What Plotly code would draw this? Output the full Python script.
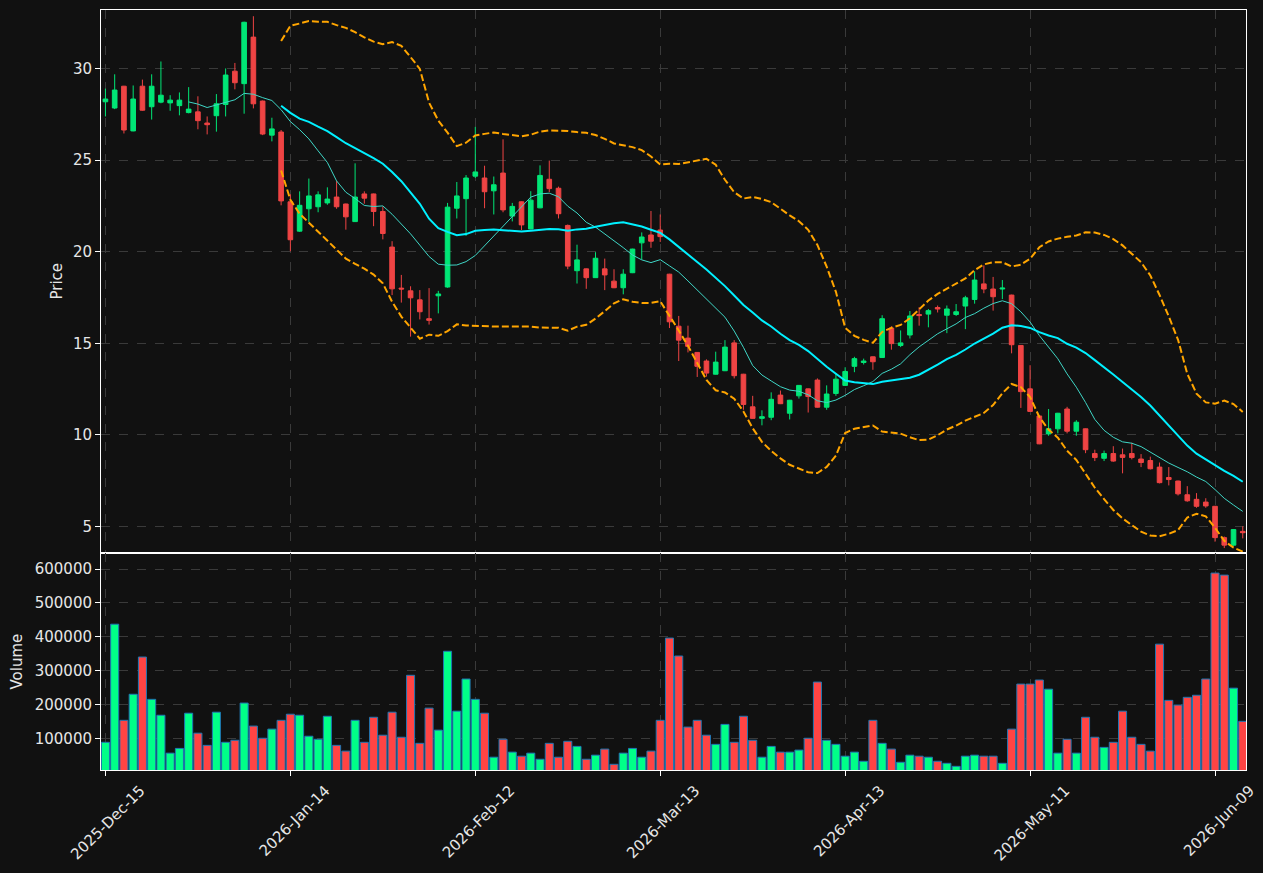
import plotly.graph_objects as go
from plotly.subplots import make_subplots
import pandas as pd

tick_index = [0, 20, 40, 60, 80, 100, 120]
tick_labels = ["2025-Dec-15", "2026-Jan-14", "2026-Feb-12", "2026-Mar-13",
               "2026-Apr-13", "2026-May-11", "2026-Jun-09"]

open_ = [28.18, 27.84, 29.03, 26.59, 29.03, 27.91, 28.16, 28.12, 27.97, 27.59,
         27.63, 27.02, 27.42, 28.03, 29.85, 29.17, 31.71, 28.22, 26.36, 26.53,
         22.72, 21.12, 22.34, 22.45, 22.66, 22.98, 22.60, 21.64, 23.15, 23.15,
         22.19, 20.25, 18.01, 17.86, 17.37, 16.34, 17.59, 18.07, 22.37, 22.89,
         24.12, 24.02, 23.32, 24.29, 21.94, 22.72, 21.24, 22.39, 23.95, 23.46,
         21.43, 18.96, 19.06, 18.58, 19.06, 18.39, 18.03, 18.85, 20.48, 20.91,
         21.18, 18.77, 15.93, 15.28, 14.50, 14.03, 13.31, 13.50, 15.02, 13.31,
         11.53, 10.90, 10.96, 12.17, 11.18, 12.13, 12.51, 12.99, 11.51, 12.26,
         12.70, 13.74, 13.95, 14.26, 14.22, 15.83, 14.88, 15.45, 16.57, 16.59,
         16.95, 16.53, 16.57, 17.03, 17.39, 18.24, 17.96, 17.96, 17.63, 14.88,
         12.51, 11.03, 10.05, 10.33, 11.41, 10.20, 10.33, 8.98, 8.72, 8.98,
         8.91, 8.98, 8.68, 8.60, 8.24, 7.67, 7.48, 6.73, 6.48, 6.33,
         6.10, 4.39, 3.98, 4.73]

close = [28.33, 28.82, 26.64, 28.33, 27.72, 29.03, 28.54, 28.27, 28.27, 27.78,
         27.15, 26.93, 28.07, 29.64, 29.22, 32.52, 28.07, 26.42, 26.70, 22.77,
         20.65, 22.53, 23.04, 23.10, 22.87, 22.45, 21.90, 22.98, 22.92, 22.19,
         20.99, 17.97, 17.96, 17.48, 16.72, 16.25, 17.69, 22.43, 23.04, 24.02,
         24.35, 23.27, 23.65, 22.28, 22.47, 21.46, 22.81, 24.16, 23.44, 22.07,
         19.21, 19.55, 18.58, 19.64, 18.73, 18.03, 18.77, 20.14, 20.80, 20.57,
         20.82, 16.17, 15.17, 14.83, 13.74, 13.37, 13.97, 14.79, 13.23, 11.66,
         10.90, 10.99, 11.94, 11.70, 11.89, 12.70, 12.09, 11.51, 12.23, 13.04,
         13.46, 14.16, 14.03, 13.99, 16.34, 14.98, 15.02, 16.49, 16.51, 16.78,
         16.87, 16.87, 16.72, 17.48, 18.45, 17.96, 17.54, 18.01, 14.92, 12.36,
         11.28, 9.51, 10.33, 11.18, 10.20, 10.69, 9.19, 8.76, 8.98, 8.57,
         8.77, 8.76, 8.49, 8.15, 7.39, 7.56, 6.78, 6.40, 6.10, 6.12,
         4.39, 3.98, 4.83, 4.66]

high = [28.90, 29.68, 29.05, 29.07, 29.39, 29.68, 30.38, 28.54, 28.69, 28.98,
        28.48, 27.38, 28.60, 30.00, 30.30, 32.55, 32.85, 28.25, 27.31, 26.64,
        23.13, 23.29, 23.99, 23.29, 23.51, 23.85, 22.62, 24.82, 23.29, 23.17,
        22.47, 20.57, 18.73, 18.11, 17.90, 18.01, 17.86, 22.66, 23.80, 24.18,
        26.81, 24.69, 24.10, 26.13, 22.66, 22.74, 23.30, 24.71, 24.97, 23.55,
        21.48, 20.38, 19.08, 19.97, 19.62, 19.04, 19.04, 20.16, 21.05, 22.22,
        22.03, 18.79, 16.49, 15.96, 14.52, 14.12, 14.54, 15.17, 15.17, 13.33,
        12.13, 11.34, 12.32, 12.42, 11.91, 12.72, 12.53, 13.08, 12.70, 13.37,
        13.69, 14.26, 14.16, 14.28, 16.53, 15.93, 15.70, 16.76, 16.97, 16.87,
        17.06, 17.06, 17.14, 17.59, 18.92, 19.25, 18.62, 18.45, 17.65, 14.90,
        13.80, 11.05, 11.41, 11.20, 11.53, 10.80, 10.35, 9.19, 9.14, 9.38,
        9.25, 9.57, 8.95, 8.81, 8.49, 8.24, 7.50, 7.20, 6.82, 6.54,
        6.12, 4.45, 4.85, 5.01]

low = [27.38, 27.78, 26.45, 26.57, 27.69, 27.21, 28.10, 27.69, 27.44, 27.55,
       26.68, 26.40, 26.55, 27.38, 28.86, 27.53, 27.82, 26.36, 26.02, 22.53,
       20.02, 21.08, 21.62, 22.15, 22.56, 22.34, 21.20, 21.62, 22.62, 21.39,
       20.67, 17.63, 17.22, 15.36, 16.30, 16.02, 16.63, 18.03, 21.81, 20.86,
       24.02, 22.37, 22.03, 22.15, 21.65, 21.18, 21.22, 22.37, 23.25, 21.81,
       19.04, 18.26, 17.97, 18.56, 17.90, 18.01, 17.67, 18.83, 19.57, 20.21,
       20.53, 15.83, 14.03, 14.50, 13.16, 13.18, 13.29, 13.48, 13.08, 11.37,
       10.88, 10.52, 10.80, 11.68, 10.84, 11.98, 11.22, 11.49, 11.37, 12.13,
       12.68, 13.42, 13.84, 13.55, 14.20, 14.65, 14.79, 15.26, 15.96, 15.87,
       16.68, 15.55, 16.49, 15.77, 17.16, 17.73, 16.78, 17.41, 14.45, 11.47,
       11.26, 9.49, 9.95, 10.08, 10.08, 9.95, 9.00, 8.57, 8.57, 8.53,
       7.90, 8.66, 8.24, 8.11, 7.35, 7.24, 6.69, 6.35, 6.02, 6.02,
       4.17, 3.82, 3.94, 4.35]

volume_k = [88, 437, 153, 230, 340, 215, 168, 56, 70, 174,
            115, 79, 177, 88, 94, 204, 136, 100, 127, 153,
            171, 168, 106, 97, 165, 79, 62, 153, 88, 162,
            109, 177, 103, 286, 85, 189, 124, 357, 180, 275,
            215, 174, 44, 97, 59, 47, 56, 38, 85, 44,
            91, 76, 38, 50, 68, 23, 56, 70, 44, 62,
            153, 396, 343, 133, 153, 109, 82, 141, 88, 165,
            94, 44, 76, 59, 59, 65, 100, 266, 94, 82,
            47, 59, 32, 153, 85, 68, 29, 50, 47, 44,
            32, 26, 17, 47, 50, 47, 47, 26, 127, 260,
            260, 272, 245, 56, 97, 56, 162, 103, 73, 88,
            180, 103, 82, 62, 378, 212, 198, 221, 227, 275,
            588, 582, 248, 150]

volume = [v * 1000 for v in volume_k]
idx = list(range(len(close)))

s = pd.Series(close)
sma20 = s.rolling(20).mean()
sma10 = s.rolling(10).mean()
std20 = s.rolling(20).std(ddof=0)
bb_up = sma20 + 2 * std20
bb_lo = sma20 - 2 * std20

UP_C, DN_C = "#00e676", "#ef4444"
VUP_C, VDN_C = "#00ff88", "#ff4444"
vcolors = [VUP_C if c >= o else VDN_C for o, c in zip(open_, close)]

fig = make_subplots(rows=2, cols=1, shared_xaxes=True, vertical_spacing=0)

fig.add_trace(go.Candlestick(
    x=idx, open=open_, high=high, low=low, close=close,
    increasing=dict(line=dict(color=UP_C, width=1), fillcolor=UP_C),
    decreasing=dict(line=dict(color=DN_C, width=1), fillcolor=DN_C),
    whiskerwidth=0, hoverinfo="skip"), row=1, col=1)

fig.add_trace(go.Scatter(x=idx, y=sma10, mode="lines",
                         line=dict(color="#3fd6c6", width=1)), row=1, col=1)
fig.add_trace(go.Scatter(x=idx, y=sma20, mode="lines",
                         line=dict(color="#00f0ff", width=2)), row=1, col=1)
fig.add_trace(go.Scatter(x=idx, y=bb_up, mode="lines",
                         line=dict(color="#ffa500", width=2, dash="7px,3px")), row=1, col=1)
fig.add_trace(go.Scatter(x=idx, y=bb_lo, mode="lines",
                         line=dict(color="#ffa500", width=2, dash="7px,3px")), row=1, col=1)

fig.add_trace(go.Bar(x=idx, y=volume, width=0.87, marker=dict(
    color=vcolors, line=dict(color="#1f77b4", width=1))), row=2, col=1)

FONT = dict(family="DejaVu Sans", size=15, color="#e6e6e6")
GRID = "#3a3a3a"
split = 0.2855

axis_common = dict(showline=True, linecolor="white", linewidth=1, mirror=True,
                   ticks="outside", tickcolor="white", ticklen=5,
                   gridcolor=GRID, griddash="dash", gridwidth=1,
                   zeroline=False, tickfont=FONT, automargin=False)

fig.update_layout(
    width=1263, height=873,
    margin=dict(l=101, r=17, t=10, b=103, autoexpand=False),
    paper_bgcolor="#111111", plot_bgcolor="#111111",
    showlegend=False, font=FONT,
    boxgap=0.5, boxgroupgap=0,
    xaxis=dict(axis_common, domain=[0, 1], range=[-0.48, 123.35],
               tickvals=tick_index, showticklabels=False,
               rangeslider=dict(visible=False)),
    xaxis2=dict(axis_common, domain=[0, 1], range=[-0.48, 123.35],
                tickvals=tick_index, ticktext=tick_labels, tickangle=-45,
                ticklabelshift=35),
    yaxis=dict(axis_common, domain=[split, 1], range=[3.55, 33.19],
               tickvals=[5, 10, 15, 20, 25, 30]),
    yaxis2=dict(axis_common, domain=[0, split], range=[6200, 647300],
                tickvals=[100000, 200000, 300000, 400000, 500000, 600000],
                tickformat="d"),
    annotations=[
        dict(text="Price", xref="paper", yref="paper", x=0, y=(1 + split) / 2,
             xshift=-44, textangle=-90, showarrow=False, font=FONT,
             xanchor="center", yanchor="middle"),
        dict(text="Volume", xref="paper", yref="paper", x=0, y=split / 2,
             xshift=-84, textangle=-90, showarrow=False, font=FONT,
             xanchor="center", yanchor="middle"),
    ],
)

fig.write_html("out.html")
